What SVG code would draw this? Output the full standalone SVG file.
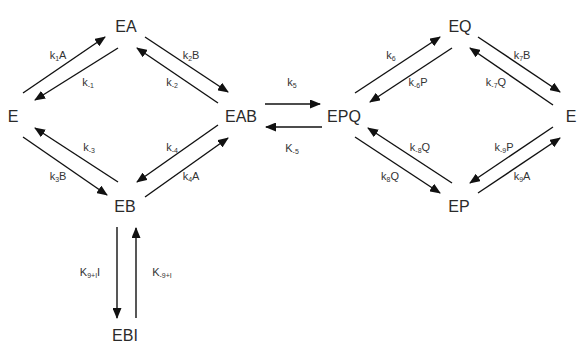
<svg xmlns="http://www.w3.org/2000/svg" width="577" height="343" viewBox="0 0 577 343">
<defs>
<marker id="ah" markerUnits="userSpaceOnUse" markerWidth="11" markerHeight="9" refX="10" refY="4.5" orient="auto">
<path d="M0,0 L11,4.5 L0,9 z" fill="#111"/>
</marker>
<style>
.n{font-family:"Liberation Sans",Arial,sans-serif;font-size:16px;fill:#2a2a2a;text-anchor:middle}
.l{font-family:"Liberation Sans",Arial,sans-serif;font-size:11px;fill:#333;text-anchor:middle}
.s{font-size:7px}
line{stroke:#111;stroke-width:1.4;marker-end:url(#ah)}
</style>
</defs>
<rect width="577" height="343" fill="#fff"/>
<g id="connectors">
<line x1="23" y1="93" x2="105" y2="37"/>
<line x1="118" y1="48" x2="35" y2="100"/>
<line x1="145" y1="37" x2="228" y2="92"/>
<line x1="218" y1="103" x2="137" y2="48"/>
<line x1="23" y1="137" x2="107" y2="195"/>
<line x1="118" y1="182" x2="35" y2="128"/>
<line x1="145" y1="197" x2="228" y2="138"/>
<line x1="218" y1="125" x2="137" y2="182"/>
<line x1="265" y1="104" x2="320" y2="104"/>
<line x1="322" y1="127" x2="266" y2="127"/>
<line x1="355" y1="93" x2="440" y2="37"/>
<line x1="452" y1="48" x2="370" y2="102"/>
<line x1="478" y1="37" x2="560" y2="92"/>
<line x1="553" y1="105" x2="470" y2="48"/>
<line x1="355" y1="137" x2="440" y2="193"/>
<line x1="452" y1="183" x2="368" y2="128"/>
<line x1="478" y1="193" x2="560" y2="138"/>
<line x1="553" y1="127" x2="470" y2="183"/>
<line x1="117" y1="227" x2="117" y2="318"/>
<line x1="136" y1="318" x2="136" y2="228"/>
</g>
<g id="labels">
<text class="l" x="58" y="59">k<tspan class="s" dy="2">1</tspan><tspan dy="-2">A</tspan></text>
<text class="l" x="88" y="86">k<tspan class="s" dy="2">-1</tspan></text>
<text class="l" x="191" y="59">k<tspan class="s" dy="2">2</tspan><tspan dy="-2">B</tspan></text>
<text class="l" x="172" y="86">k<tspan class="s" dy="2">-2</tspan></text>
<text class="l" x="89" y="151">k<tspan class="s" dy="2">-3</tspan></text>
<text class="l" x="58" y="180">k<tspan class="s" dy="2">3</tspan><tspan dy="-2">B</tspan></text>
<text class="l" x="172" y="151">k<tspan class="s" dy="2">-4</tspan></text>
<text class="l" x="191" y="180">k<tspan class="s" dy="2">4</tspan><tspan dy="-2">A</tspan></text>
<text class="l" x="292" y="86">k<tspan class="s" dy="2">5</tspan></text>
<text class="l" x="292" y="152">K<tspan class="s" dy="2">-5</tspan></text>
<text class="l" x="391" y="59">k<tspan class="s" dy="2">6</tspan></text>
<text class="l" x="418" y="86">k<tspan class="s" dy="2">-6</tspan><tspan dy="-2">P</tspan></text>
<text class="l" x="522" y="59">k<tspan class="s" dy="2">7</tspan><tspan dy="-2">B</tspan></text>
<text class="l" x="496" y="86">k<tspan class="s" dy="2">-7</tspan><tspan dy="-2">Q</tspan></text>
<text class="l" x="420" y="151">k<tspan class="s" dy="2">-8</tspan><tspan dy="-2">Q</tspan></text>
<text class="l" x="390" y="180">k<tspan class="s" dy="2">8</tspan><tspan dy="-2">Q</tspan></text>
<text class="l" x="504" y="151">k<tspan class="s" dy="2">-9</tspan><tspan dy="-2">P</tspan></text>
<text class="l" x="522" y="180">k<tspan class="s" dy="2">9</tspan><tspan dy="-2">A</tspan></text>
<text class="l" x="90" y="276">K<tspan class="s" dy="2">9+I</tspan><tspan dy="-2">I</tspan></text>
<text class="l" x="162" y="276">K<tspan class="s" dy="2">-9+I</tspan></text>
</g>
<g id="E"><text class="n" x="13" y="122">E</text></g>
<g id="EA"><text class="n" x="126" y="32">EA</text></g>
<g id="EAB"><text class="n" x="241" y="122">EAB</text></g>
<g id="EB"><text class="n" x="125" y="212">EB</text></g>
<g id="EBI"><text class="n" x="125" y="341">EBI</text></g>
<g id="EPQ"><text class="n" x="344" y="122">EPQ</text></g>
<g id="EQ"><text class="n" x="460" y="32">EQ</text></g>
<g id="E2"><text class="n" x="571" y="122">E</text></g>
<g id="EP"><text class="n" x="459" y="212">EP</text></g>
</svg>
